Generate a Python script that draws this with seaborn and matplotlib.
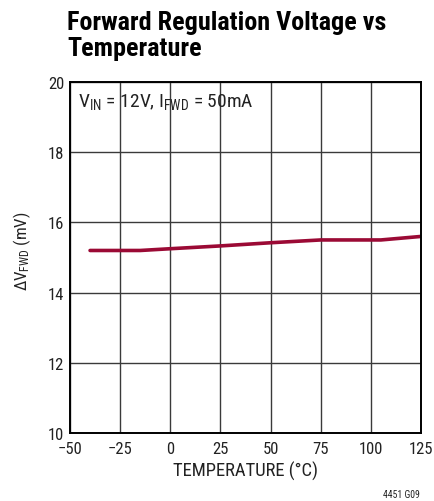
import matplotlib
matplotlib.use("Agg")
import matplotlib.pyplot as plt
import seaborn as sns
import pandas as pd

temperature = [-40, -15, 0, 25, 50, 75, 105, 125]
delta_vfwd = [15.2, 15.2, 15.25, 15.33, 15.42, 15.5, 15.5, 15.6]
xticks = [-50, -25, 0, 25, 50, 75, 100, 125]
xtick_labels = ["\u221250", "\u221225", "0", "25", "50", "75", "100", "125"]
yticks = [10, 12, 14, 16, 18, 20]

FONT = 'Roboto Condensed'
sns.set_theme(style="white")
plt.rcParams['font.family'] = [FONT, 'DejaVu Sans']
plt.rcParams['mathtext.fontset'] = 'custom'
plt.rcParams['mathtext.rm'] = FONT
plt.rcParams['mathtext.it'] = FONT
plt.rcParams['mathtext.bf'] = FONT + ':bold'

fig = plt.figure(figsize=(4.34, 5.02), dpi=100)
ax = fig.add_axes([70/434, 1-434/502, 351/434, 351/502])

df = pd.DataFrame({"T": temperature, "V": delta_vfwd})
sns.lineplot(data=df, x="T", y="V", ax=ax, color="#9b0a35", linewidth=2.6)

ax.set_xlim(-50, 125)
ax.set_ylim(10, 20)
ax.set_xticks(xticks)
ax.set_xticklabels(xtick_labels)
ax.set_yticks(yticks)
ax.grid(True, color="#3a3a3a", linewidth=1.0)
ax.set_axisbelow(True)
for s in ax.spines.values():
    s.set_color("black")
    s.set_linewidth(1.4)
ax.tick_params(axis="both", labelsize=12, colors="#222222", length=0)
ax.tick_params(axis="x", pad=6)
ax.tick_params(axis="y", pad=4)
ax.set_xlabel("TEMPERATURE (\u00b0C)", fontsize=13.4, color="#222222", labelpad=3)
ax.set_ylabel(r"$\Delta$V$_{\mathregular{FWD}}$ (mV)", fontsize=12.2, color="#222222")
ax.yaxis.set_label_coords(-0.105, 0.52)

ax.text(-46, 19.75, r"V$_{\mathregular{IN}}$ = 12V, I$_{\mathregular{FWD}}$ = 50mA",
        fontsize=14, color="#222222", va="top", ha="left")

fig.text(67/434, 1-11/502, "Forward Regulation Voltage vs\nTemperature",
         fontsize=18.8, fontweight="bold", color="black", va="top", ha="left",
         linespacing=1.12)
fig.text(420/434, 1-498/502, "4451 G09", fontsize=7, color="#222222",
         ha="right", va="baseline")

fig.savefig("out.png", dpi=100)
